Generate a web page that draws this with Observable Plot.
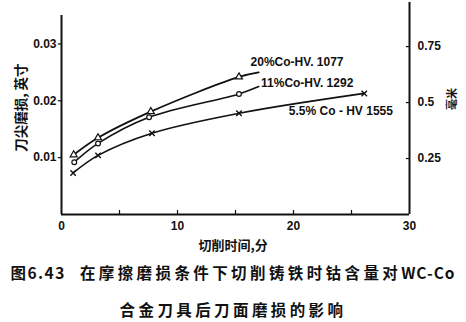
<!DOCTYPE html>
<html>
<head>
<meta charset="utf-8">
<script src="https://cdn.jsdelivr.net/npm/d3@7"></script>
<script src="https://cdn.jsdelivr.net/npm/@observablehq/plot@0.6"></script>
<style>
  html, body { margin: 0; padding: 0; background: #fff; }
  #chart { width: 466px; height: 252px; }
  .cap { font-family: "Noto Sans CJK SC", sans-serif; font-weight: 700; font-size: 15.5px; color: #111;
         text-align: center; letter-spacing: 3.4px; line-height: 37px; width: 466px; margin-top: 2px; }
  .cap .fig { letter-spacing: 1.5px; margin-right: 14px; }
  .cap .lat { letter-spacing: 1px; }
</style>
</head>
<body>
<div id="chart"></div>
<div class="cap"><span class="fig">图6.43</span>在摩擦磨损条件下切削铸铁时钴含量对<span class="lat">WC-Co</span><br>合金刀具后刀面磨损的影响</div>
<script>
// Cutting time (min) at each measured point
const time20 = [1.05, 3.15, 7.7, 15.3];
const wear20 = [0.0105, 0.0135, 0.0181, 0.0242];
const time11 = [1.1, 3.15, 7.55, 15.3];
const wear11 = [0.0092, 0.0125, 0.0171, 0.0212];
const time55 = [1.0, 3.15, 7.8, 15.3, 26.1];
const wear55 = [0.0073, 0.0104, 0.0143, 0.0178, 0.0213];
// hand-drawn curve tails beyond the last marker
const tail20 = [17.0, 0.0250];
const tail11 = [17.0, 0.0225];

const seriesLabels = ["20%Co-HV. 1077", "11%Co-HV. 1292", "5.5% Co - HV 1555"];
const xTicks = [0, 10, 20, 30];
const xMinorTicks = [5, 10, 15, 20, 25];
const yTicks = [0.01, 0.02, 0.03];
const yTickLabels = ["0.01", "0.02", "0.03"];
const mmTicks = [0.25, 0.5, 0.75];
const mmTickLabels = ["0.25", "0.5", "0.75"];
const xLabel = "切削时间,分";
const yLabel = "刀尖磨损, 英寸";
const y2Label = "毫米";

const pts = (ts, ws) => ts.map((t, i) => ({t, w: ws[i]}));
const p20 = pts(time20, wear20);
const p11 = pts(time11, wear11);
const p55 = pts(time55, wear55);
const c20 = [...p20, {t: tail20[0], w: tail20[1]}];
const c11 = [...p11, {t: tail11[0], w: tail11[1]}];
const mm = mmTicks.map((v, i) => ({w: v / 25.4, label: mmTickLabels[i]}));

const font = "Liberation Sans, Arial, sans-serif";
const cjk = "Noto Sans CJK SC, sans-serif";
const ink = "#111";

const chart = Plot.plot({
  width: 466,
  height: 252,
  marginLeft: 61,
  marginRight: 57,
  marginTop: 15,
  marginBottom: 38,
  style: {fontFamily: font, fontSize: "12px", fontWeight: "bold", color: ink, background: "#fff", overflow: "visible"},
  x: {domain: [0, 30], axis: null},
  y: {domain: [0, 0.035], axis: null},
  marks: [
    // x ticks (short, pointing inward)
    Plot.ruleX(xMinorTicks, {x: d => d, y1: 0, y2: 0.0007, stroke: ink, strokeWidth: 1.2}),
    // left y ticks (outward)
    Plot.ruleY(yTicks, {y: d => d, x1: -0.27, x2: 0, stroke: ink, strokeWidth: 1.2}),
    // right mm ticks (inward)
    Plot.ruleY(mm, {y: "w", x1: 29.73, x2: 30, stroke: ink, strokeWidth: 1.2}),
    // axes frame (left, bottom, right)
    Plot.ruleX([0], {y1: 0, y2: 0.035, stroke: ink, strokeWidth: 2}),
    Plot.ruleX([30], {y1: 0, y2: 0.0373, stroke: ink, strokeWidth: 2}),
    Plot.ruleY([0], {x1: 0, x2: 30, stroke: ink, strokeWidth: 2}),
    // tick labels
    Plot.text(xTicks, {x: d => d, y: 0, text: d => String(d), dy: 12, fontSize: 12, fontWeight: "bold", fill: ink}),
    Plot.text([xLabel], {x: 14.8, y: 0, text: d => d, dy: 31, fontFamily: cjk, fontSize: 13, fontWeight: "bold", fill: ink}),
    Plot.text(yTicks, {x: 0, y: d => d, text: (d, i) => yTickLabels[i], dx: -5, textAnchor: "end", fontSize: 12, fontWeight: "bold", fill: ink}),
    Plot.text([yLabel], {x: 0, y: 0.0188, text: d => d, dx: -40, rotate: -90, fontFamily: cjk, fontSize: 13.5, fontWeight: "bold", fill: ink}),
    Plot.text(mm, {x: 30, y: "w", text: "label", dx: 8, textAnchor: "start", fontSize: 12, fontWeight: "bold", fill: ink}),
    Plot.text([y2Label], {x: 30, y: 0.0203, text: d => d, dx: 43, rotate: -90, fontFamily: cjk, fontSize: 11, fontWeight: "bold", fill: ink}),
    // curves
    Plot.line(c20, {x: "t", y: "w", curve: "catmull-rom", stroke: ink, strokeWidth: 1.8}),
    Plot.line(c11, {x: "t", y: "w", curve: "catmull-rom", stroke: ink, strokeWidth: 1.6}),
    Plot.line(p55, {x: "t", y: "w", curve: "catmull-rom", stroke: ink, strokeWidth: 1.6}),
    // markers
    Plot.dot(p20, {x: "t", y: "w", symbol: "triangle", r: 2.6, stroke: ink, fill: "#fff", strokeWidth: 1.2}),
    Plot.dot(p11, {x: "t", y: "w", symbol: "circle", r: 2.4, stroke: ink, fill: "#fff", strokeWidth: 1.2}),
    Plot.dot(p55, {x: "t", y: "w", symbol: "times", r: 2.6, stroke: ink, strokeWidth: 1.4}),
    // series labels
    Plot.text([seriesLabels[0]], {x: 16.3, y: 0.0268, text: d => d, textAnchor: "start", fontSize: 12, fontWeight: "bold", fill: ink}),
    Plot.text([seriesLabels[1]], {x: 17.2, y: 0.0231, text: d => d, textAnchor: "start", fontSize: 12, fontWeight: "bold", fill: ink}),
    Plot.text([seriesLabels[2]], {x: 19.6, y: 0.0182, text: d => d, textAnchor: "start", fontSize: 12, fontWeight: "bold", fill: ink})
  ]
});
document.getElementById("chart").appendChild(chart);
</script>
</body>
</html>
